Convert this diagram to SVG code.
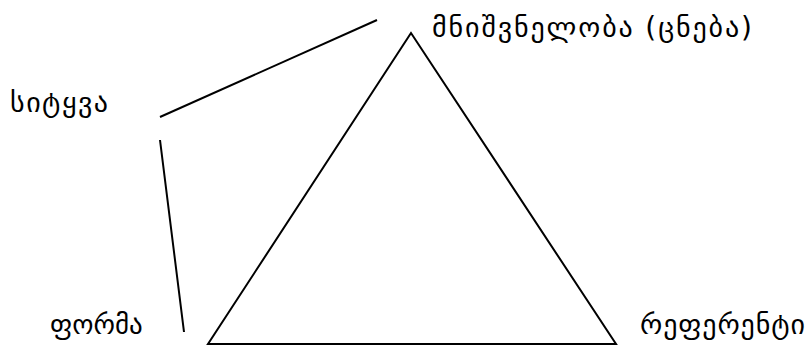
<svg xmlns="http://www.w3.org/2000/svg" width="806" height="345" viewBox="0 0 806 345">
<style>
text{font-family:"DejaVu Sans",serif;font-size:28px;fill:#000}
.ln{stroke:#000;stroke-width:2;fill:none}
</style>
<rect width="806" height="345" fill="#fff"/>
<g id="connectors">
<line class="ln" x1="160" y1="117" x2="377" y2="20"/>
<line class="ln" x1="160" y1="140" x2="184" y2="332"/>
<polygon class="ln" points="411,33 208,344 616,344"/>
</g>
<g id="node-meaning"><text x="432" y="37" textLength="320" lengthAdjust="spacing">მნიშვნელობა (ცნება)</text></g>
<g id="node-word"><text x="10" y="112" textLength="98" lengthAdjust="spacing">სიტყვა</text></g>
<g id="node-form"><text x="50" y="334" style="font-size:27px">ფორმა</text></g>
<g id="node-referent"><text x="640" y="334" textLength="165" lengthAdjust="spacing">რეფერენტი</text></g>
</svg>
